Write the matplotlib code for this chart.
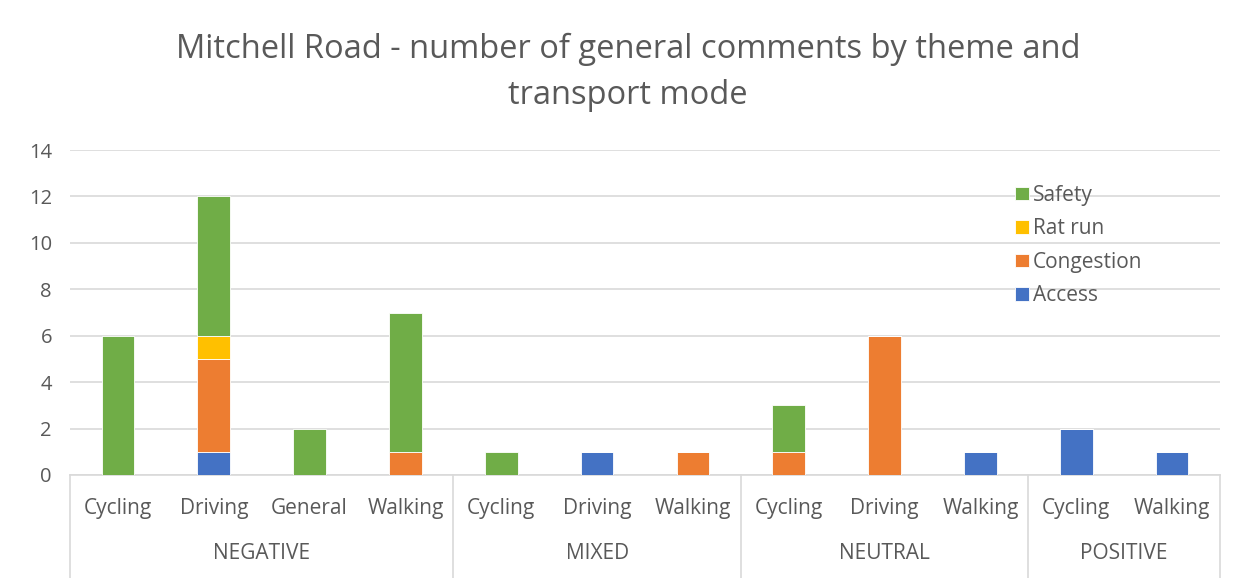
import numpy as np
import matplotlib
matplotlib.use("Agg")
from matplotlib import pyplot as plt
from matplotlib.transforms import blended_transform_factory

# categories (mode within sentiment group)
groups = ["NEGATIVE", "MIXED", "NEUTRAL", "POSITIVE"]
modes = [["Cycling", "Driving", "General", "Walking"],
         ["Cycling", "Driving", "Walking"],
         ["Cycling", "Driving", "Walking"],
         ["Cycling", "Walking"]]

# series values, one per category in order
access     = [0, 1, 0, 0, 0, 1, 0, 0, 0, 1, 2, 1]
congestion = [0, 4, 0, 1, 0, 0, 1, 1, 6, 0, 0, 0]
rat_run    = [0, 1, 0, 0, 0, 0, 0, 0, 0, 0, 0, 0]
safety     = [6, 6, 2, 6, 1, 0, 0, 2, 0, 0, 0, 0]

series_names = ["Access", "Congestion", "Rat run", "Safety"]
colors = ["#4472C4", "#ED7D31", "#FFC000", "#70AD47"]

txt = "#595959"
grid = "#D9D9D9"
plt.rcParams['font.family'] = ['Open Sans', 'DejaVu Sans']

fig = plt.figure(figsize=(12.46, 5.78), dpi=100)
ax = fig.add_axes([70/1246, 1 - 475/578, 1150/1246, 325/578])

n = sum(len(m) for m in modes)
x = np.arange(n)
bottom = np.zeros(n)
handles = []
for vals, name, c in zip([access, congestion, rat_run, safety], series_names, colors):
    v = np.array(vals, dtype=float)
    b = ax.bar(x, v, width=0.34, bottom=bottom, color=c, label=name,
               edgecolor="white", linewidth=0.6, zorder=3)
    handles.append(b)
    bottom += v

ax.set_xlim(-0.5, n - 0.5)
ax.set_ylim(0, 14)
ax.set_yticks(range(0, 15, 2))
ax.yaxis.grid(True, color=grid, linewidth=1.2, zorder=0)
ax.tick_params(axis="y", length=0, labelsize=14.5, labelcolor=txt, pad=13)
ax.set_xticks([])
for s in ["top", "right", "left"]:
    ax.spines[s].set_visible(False)
ax.spines["bottom"].set_color(grid)
ax.spines["bottom"].set_linewidth(1.2)

# two level category axis
tr = blended_transform_factory(ax.transData, ax.transAxes)
pos = 0
ax.plot([-0.5, -0.5], [0, -0.32], transform=tr, color=grid, lw=1.2, clip_on=False)
for g, m in zip(groups, modes):
    for i, lab in enumerate(m):
        ax.text(pos + i, -0.104, lab, transform=tr, ha="center", va="center",
                fontsize=15, color=txt)
    ax.text(pos + (len(m) - 1) / 2, -0.242, g, transform=tr, ha="center",
            va="center", fontsize=15, color=txt)
    pos += len(m)
    ax.plot([pos - 0.5, pos - 0.5], [0, -0.32], transform=tr, color=grid,
            lw=1.2, clip_on=False)

leg = ax.legend(handles[::-1], series_names[::-1], loc="upper left",
                bbox_to_anchor=(0.822, 0.893), frameon=False, fontsize=15,
                handlelength=0.65, handleheight=0.65, handletextpad=0.2,
                labelspacing=0.6, labelcolor=txt, borderpad=0, borderaxespad=0)

fig.text(0.504, 0.875, "Mitchell Road - number of general comments by theme and\ntransport mode",
         ha="center", va="center", fontsize=23.5, color=txt, linespacing=1.5)

fig.savefig("out.png", dpi=100)
